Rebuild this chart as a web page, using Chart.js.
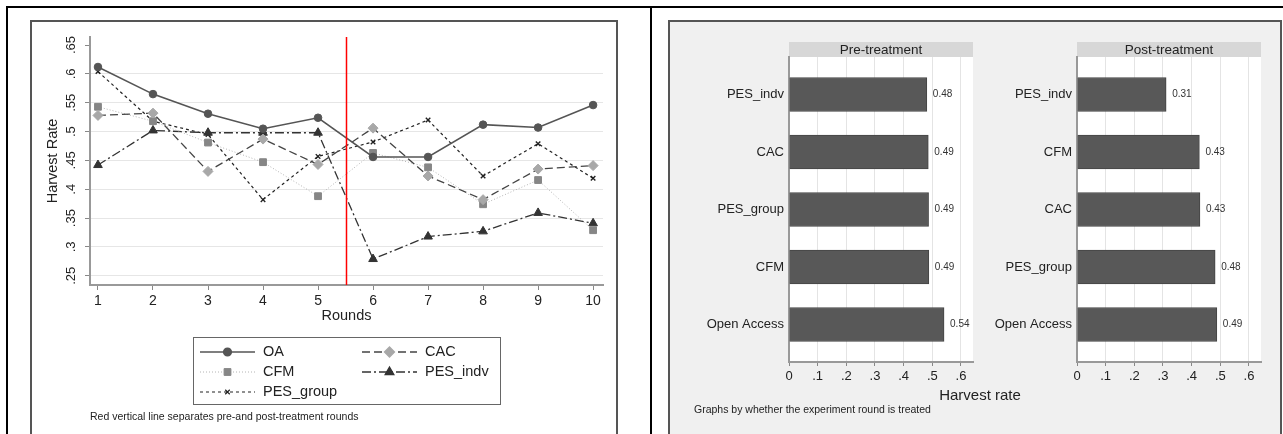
<!DOCTYPE html>
<html>
<head>
<meta charset="utf-8">
<script src="https://cdn.jsdelivr.net/npm/chart.js@4.4.1/dist/chart.umd.min.js"></script>
<style>
  html, body { margin: 0; padding: 0; background: #fff; }
  body { width: 1283px; height: 434px; position: relative; overflow: hidden; font-family: "Liberation Sans", Arial, sans-serif; }
  .rule { position: absolute; background: #000; }
  #leftBox { position: absolute; left: 30px; top: 20px; width: 584px; height: 420px; border: 2px solid #555; background: #fff; }
  #rightBox { position: absolute; left: 668px; top: 20px; width: 610px; height: 420px; border: 2px solid #555; background: #f0f0f0; }
  canvas { position: absolute; }
  .txt { position: absolute; white-space: nowrap; color: #222; }
</style>
</head>
<body>
<div class="rule" style="left:6px; top:6px; width:1277px; height:2px;"></div>
<div class="rule" style="left:6px; top:6px; width:2px; height:428px;"></div>
<div class="rule" style="left:650px; top:6px; width:2px; height:428px;"></div>

<div id="leftBox">
  <canvas id="roundsChart" width="584" height="412" style="left:0; top:0;"></canvas>
  <div class="txt" style="left:58px; top:388px; font-size:10.5px;">Red vertical line separates pre-and post-treatment rounds</div>
</div>

<div id="rightBox">
  <canvas id="preChart" width="310" height="370" style="left:0; top:0;"></canvas>
  <canvas id="postChart" width="310" height="370" style="left:288px; top:0;"></canvas>
  <div class="txt" style="left:310px; top:364px; font-size:15px; transform:translateX(-50%);">Harvest rate</div>
  <div class="txt" style="left:24px; top:381px; font-size:10.5px;">Graphs by whether the experiment round is treated</div>
</div>

<script>
// left panel: harvest rate by round
const rounds = [1, 2, 3, 4, 5, 6, 7, 8, 9, 10];
const oaRate = [0.612, 0.565, 0.531, 0.505, 0.524, 0.456, 0.456, 0.512, 0.507, 0.546];
const cacRate = [0.528, 0.532, 0.431, 0.487, 0.443, 0.506, 0.423, 0.382, 0.435, 0.441];
const cfmRate = [0.543, 0.518, 0.481, 0.447, 0.388, 0.463, 0.438, 0.374, 0.416, 0.329];
const pesIndvRate = [0.442, 0.502, 0.498, 0.498, 0.498, 0.279, 0.318, 0.327, 0.359, 0.341];
const pesGroupRate = [0.604, 0.518, 0.495, 0.382, 0.457, 0.482, 0.520, 0.423, 0.479, 0.419];
const rateTicks = [0.25, 0.3, 0.35, 0.4, 0.45, 0.5, 0.55, 0.6, 0.65];
const treatmentSplit = 5.5;

// right panel: mean harvest rate by treatment
const preTreatments = ["PES_indv", "CAC", "PES_group", "CFM", "Open Access"];
const preRate = [0.481, 0.486, 0.487, 0.488, 0.541];
const postTreatments = ["PES_indv", "CFM", "CAC", "PES_group", "Open Access"];
const postRate = [0.311, 0.427, 0.429, 0.482, 0.488];
const barTicks = [0, 0.1, 0.2, 0.3, 0.4, 0.5, 0.6];

const FONT = '"Liberation Sans", Arial, sans-serif';
const stataNum = v => Number(v.toFixed(2)).toString().replace(/^0\./, ".");

const series = (label, data, line, point) => Object.assign({
  label,
  data: data.map((v, i) => ({ x: rounds[i], y: v })),
  fill: false,
  tension: 0,
  pointBorderWidth: 1
}, line, point);

const redLine = {
  id: "redLine",
  afterDatasetsDraw(chart) {
    const { ctx, chartArea } = chart;
    const x = Math.round(chart.scales.x.getPixelForValue(treatmentSplit)) + 0.5;
    ctx.save();
    ctx.strokeStyle = "#ff0000";
    ctx.lineWidth = 1.5;
    ctx.beginPath();
    ctx.moveTo(x, chartArea.top);
    ctx.lineTo(x, chartArea.bottom);
    ctx.stroke();
    ctx.restore();
  }
};

const legendBox = {
  id: "legendBox",
  afterDraw(chart, args, o) {
    const ctx = chart.ctx;
    ctx.save();
    ctx.strokeStyle = "#666";
    ctx.lineWidth = 1;
    ctx.strokeRect(o.x + 0.5, o.y + 0.5, o.w, o.h);
    chart.data.datasets.forEach((ds, i) => {
      const x0 = o.x + o.colX[i % 2];
      const y = o.y + o.rowY[Math.floor(i / 2)];
      ctx.setLineDash(ds.borderDash || []);
      ctx.strokeStyle = ds.borderColor;
      ctx.lineWidth = ds.borderWidth;
      ctx.beginPath();
      ctx.moveTo(x0, y);
      ctx.lineTo(x0 + o.sample, y);
      ctx.stroke();
      ctx.setLineDash([]);
      ctx.fillStyle = ds.pointBackgroundColor;
      ctx.strokeStyle = ds.pointBorderColor;
      Chart.helpers.drawPoint(ctx, {
        pointStyle: ds.pointStyle, radius: ds.pointRadius, rotation: 0, borderWidth: ds.pointBorderWidth
      }, x0 + o.sample / 2, y);
      ctx.fillStyle = "#222";
      ctx.font = "14.5px " + FONT;
      ctx.textAlign = "left";
      ctx.textBaseline = "middle";
      ctx.fillText(ds.label, x0 + o.sample + 8, y);
    });
    ctx.restore();
  }
};

new Chart(document.getElementById("roundsChart"), {
  type: "line",
  data: {
    datasets: [
      series("OA", oaRate,
        { borderColor: "#555", borderWidth: 1.6 },
        { pointStyle: "circle", pointRadius: 3.8, pointBackgroundColor: "#555", pointBorderColor: "#555" }),
      series("CAC", cacRate,
        { borderColor: "#444", borderWidth: 1.3, borderDash: [8, 4] },
        { pointStyle: "rectRot", pointRadius: 5, pointBackgroundColor: "#a8a8a8", pointBorderColor: "#a8a8a8" }),
      series("CFM", cfmRate,
        { borderColor: "#b4b4b4", borderWidth: 1, borderDash: [1, 2] },
        { pointStyle: "rect", pointRadius: 4.8, pointBackgroundColor: "#868686", pointBorderColor: "#868686" }),
      series("PES_indv", pesIndvRate,
        { borderColor: "#333", borderWidth: 1.3, borderDash: [9, 3, 2, 3] },
        { pointStyle: "triangle", pointRadius: 5, pointBackgroundColor: "#333", pointBorderColor: "#333" }),
      series("PES_group", pesGroupRate,
        { borderColor: "#222", borderWidth: 1.2, borderDash: [3, 3] },
        { pointStyle: "crossRot", pointRadius: 3.2, pointBackgroundColor: "#222", pointBorderColor: "#222", pointBorderWidth: 1.4 })
    ]
  },
  options: {
    responsive: false,
    animation: false,
    layout: { padding: { top: 15, right: 13, bottom: 109, left: 0 } },
    plugins: {
      legend: { display: false },
      tooltip: { enabled: false },
      legendBox: { x: 161, y: 315, w: 307, h: 67, colX: [7, 169], rowY: [15, 35, 55], sample: 55 }
    },
    scales: {
      x: {
        type: "linear",
        min: 0.855,
        max: 10.18,
        afterBuildTicks: s => { s.ticks = rounds.map(v => ({ value: v })); },
        afterFit: s => { s.height = 40; },
        ticks: { color: "#222", font: { family: FONT, size: 14 }, padding: 3, maxRotation: 0,
          callback: v => String(v) },
        grid: { drawOnChartArea: false, drawTicks: true, tickLength: 5, tickColor: "#888" },
        border: { color: "#999", width: 2 },
        title: { display: true, text: "Rounds", color: "#222", font: { family: FONT, size: 14.5 }, padding: { top: 0, bottom: 0 } }
      },
      y: {
        min: 0.234,
        max: 0.664,
        afterBuildTicks: s => { s.ticks = rateTicks.map(v => ({ value: v })); },
        afterFit: s => { s.width = 58; },
        ticks: { color: "#222", font: { family: FONT, size: 13 }, minRotation: 90, maxRotation: 90,
          crossAlign: "center", padding: 5, callback: v => stataNum(v) },
        grid: {
          color: c => (c.tick && c.tick.value === 0.65) ? "rgba(0,0,0,0)" : "#e6e6e6",
          lineWidth: 1, tickLength: 5, tickColor: "#888"
        },
        border: { color: "#999", width: 2 },
        title: { display: true, text: "Harvest Rate", color: "#222", font: { family: FONT, size: 14.5 }, padding: { top: 12, bottom: 0 } }
      }
    }
  },
  plugins: [redLine, legendBox]
});

// bar panels
const plotBackground = {
  id: "plotBackground",
  beforeDraw(chart, args, o) {
    const { ctx, chartArea: a } = chart;
    ctx.save();
    ctx.fillStyle = "#fff";
    ctx.fillRect(a.left, a.top, a.width, a.height);
    ctx.fillStyle = "#d7d7d7";
    ctx.fillRect(a.left, a.top - 15, a.width, 15);
    ctx.fillStyle = "#222";
    ctx.font = "13.5px " + FONT;
    ctx.textAlign = "center";
    ctx.textBaseline = "middle";
    ctx.fillText(o.text, (a.left + a.right) / 2, a.top - 7);
    ctx.restore();
  }
};

const barValues = {
  id: "barValues",
  afterDatasetsDraw(chart) {
    const ctx = chart.ctx;
    ctx.save();
    ctx.fillStyle = "#333";
    ctx.font = "10px " + FONT;
    ctx.textAlign = "left";
    ctx.textBaseline = "middle";
    chart.getDatasetMeta(0).data.forEach((bar, i) => {
      const v = chart.data.datasets[0].data[i].x;
      ctx.fillText(v.toFixed(2), bar.x + 6, bar.y);
    });
    ctx.restore();
  }
};

function barChart(id, title, names, values) {
  new Chart(document.getElementById(id), {
    type: "bar",
    data: {
      datasets: [{
        data: values.map((v, i) => ({ x: v, y: i })),
        backgroundColor: "#585858",
        borderColor: "#444",
        borderWidth: 1,
        barThickness: 34
      }]
    },
    options: {
      indexAxis: "y",
      responsive: false,
      animation: false,
      layout: { padding: { top: 35, right: 7, bottom: 0, left: 0 } },
      plugins: {
        legend: { display: false },
        tooltip: { enabled: false },
        plotBackground: { text: title }
      },
      scales: {
        x: {
          type: "linear",
          min: 0,
          max: 0.642,
          afterBuildTicks: s => { s.ticks = barTicks.map(v => ({ value: v })); },
          afterFit: s => { s.height = 30; },
          ticks: { color: "#222", font: { family: FONT, size: 13 }, padding: 3, maxRotation: 0,
            callback: v => stataNum(v) },
          grid: { color: "#e4e4e4", lineWidth: 1, tickLength: 4, tickColor: "#888" },
          border: { color: "#999", width: 2 }
        },
        y: {
          type: "linear",
          offset: false,
          reverse: true,
          min: -0.652,
          max: 4.652,
          afterBuildTicks: s => { s.ticks = names.map((n, i) => ({ value: i })); },
          afterFit: s => { s.width = 119; },
          ticks: { color: "#222", font: { family: FONT, size: 13 }, padding: 5,
            callback: v => names[v] },
          grid: { display: false, drawTicks: false, offset: false },
          border: { color: "#999", width: 2 }
        }
      }
    },
    plugins: [plotBackground, barValues]
  });
}

barChart("preChart", "Pre-treatment", preTreatments, preRate);
barChart("postChart", "Post-treatment", postTreatments, postRate);
</script>
</body>
</html>
